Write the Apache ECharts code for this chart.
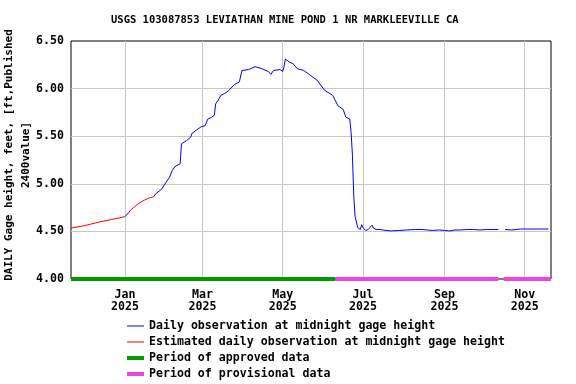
<!DOCTYPE html>
<html>
<head>
<meta charset="utf-8">
<script src="https://cdn.jsdelivr.net/npm/echarts@6/dist/echarts.min.js"></script>
<style>html,body{margin:0;padding:0;background:#fff}#c{width:576px;height:384px}</style>
</head>
<body>
<div id="c"></div>
<script>
// ---- data ----
const titleText = 'USGS 103087853 LEVIATHAN MINE POND 1 NR MARKLEEVILLE CA';
const yAxisTitle = 'DAILY Gage height, feet, [ft,Published\n2400value]';
const xMin = '2024-11-21';
const xMax = '2025-11-21';
const tickDates = ['2025-01-01', '2025-03-01', '2025-05-01', '2025-07-01', '2025-09-01', '2025-11-01'];
const tickLabels = ['Jan\n2025', 'Mar\n2025', 'May\n2025', 'Jul\n2025', 'Sep\n2025', 'Nov\n2025'];
const legendNames = [
  'Daily observation at midnight gage height',
  'Estimated daily observation at midnight gage height',
  'Period of approved data',
  'Period of provisional data'
];

const dailyDates = [
  '2025-01-01','2025-01-02','2025-01-04','2025-01-05','2025-01-10',
  '2025-01-23','2025-01-24','2025-01-29','2025-02-01','2025-02-04','2025-02-06','2025-02-08','2025-02-12',
  '2025-02-13','2025-02-17','2025-02-20','2025-02-21','2025-02-24','2025-02-28','2025-03-03',
  '2025-03-05','2025-03-08','2025-03-10','2025-03-11','2025-03-13','2025-03-15','2025-03-18','2025-03-21',
  '2025-03-25','2025-03-29','2025-03-30','2025-03-31','2025-04-05','2025-04-10','2025-04-15','2025-04-20',
  '2025-04-22','2025-04-23','2025-04-24','2025-04-29','2025-05-01','2025-05-02','2025-05-03','2025-05-06',
  '2025-05-09','2025-05-12','2025-05-17','2025-05-20','2025-05-27','2025-06-02','2025-06-08','2025-06-12',
  '2025-06-16','2025-06-18','2025-06-21','2025-06-22','2025-06-23','2025-06-24','2025-06-25','2025-06-27',
  '2025-06-29','2025-06-30','2025-07-01','2025-07-03','2025-07-05','2025-07-08','2025-07-09','2025-07-11',
  '2025-07-14','2025-07-16','2025-07-17','2025-07-22','2025-07-29','2025-08-03','2025-08-10','2025-08-15',
  '2025-08-19','2025-08-23','2025-08-28','2025-09-01','2025-09-05','2025-09-09','2025-09-13','2025-09-18',
  '2025-09-23','2025-09-28','2025-10-03','2025-10-08','2025-10-12','2025-10-14',
  '2025-10-17','2025-10-22','2025-10-29','2025-11-05','2025-11-12','2025-11-19'
];
const dailyValues = [
  4.655,4.675,4.70,4.72,null,
  4.865,4.89,4.945,5.01,5.07,5.14,5.18,5.21,
  5.42,5.455,5.49,5.53,5.56,5.60,5.61,
  5.68,5.70,5.72,5.84,5.88,5.93,5.95,5.98,
  6.04,6.07,6.08,6.19,6.20,6.23,6.21,6.18,
  6.15,6.15,6.19,6.20,6.18,6.23,6.31,6.28,
  6.26,6.21,6.19,6.16,6.09,5.98,5.93,5.82,
  5.78,5.70,5.68,5.54,5.30,4.88,4.66,4.54,
  4.52,4.57,4.54,4.51,4.52,4.566,4.535,4.52,
  4.52,4.515,4.505,4.505,4.51,4.515,4.52,4.52,
  4.515,4.51,4.515,4.51,4.505,4.515,4.515,4.52,
  4.52,4.515,4.52,4.52,4.52,null,
  4.52,4.515,4.525,4.525,4.525,4.525
];

const estDates = [
  '2024-11-21','2024-12-01','2024-12-13','2024-12-22','2025-01-01','2025-01-03',
  '2025-01-05','2025-01-08','2025-01-11','2025-01-16','2025-01-19','2025-01-23'
];
const estValues = [
  4.535,4.56,4.60,4.625,4.655,null,
  4.72,4.755,4.79,4.83,4.85,4.865
];

const approvedDates = ['2024-11-21','2025-06-10'];
const approvedValues = [4.0, 4.0];
const provisionalDates = ['2025-06-10','2025-10-12','2025-10-14','2025-10-16','2025-11-21'];
const provisionalValues = [4.0, 4.0, null, 4.0, 4.0];

// ---- chart ----
const toTime = d => echarts.time.parse(d).getTime();
const zip = (d, v) => d.map((x, i) => [toTime(x), v[i]]);
const tickTimes = tickDates.map(toTime);
const FONT = '"DejaVu Sans Mono", "Liberation Mono", monospace';

const chart = echarts.init(document.getElementById('c'), null, {renderer: 'canvas'});
chart.setOption({
  animation: false,
  backgroundColor: '#ffffff',
  title: {
    text: titleText,
    left: 106, top: 10,
    textStyle: {fontFamily: FONT, fontSize: 10.5, fontWeight: 'bold', color: '#000'}
  },
  grid: {
    left: 71, right: 25, top: 41, height: 238,
    outerBoundsMode: 'none', containLabel: false,
    show: true, borderColor: '#000', borderWidth: 1, backgroundColor: 'transparent'
  },
  legend: {
    orient: 'vertical', left: 125, top: 320, padding: 0,
    itemWidth: 17, itemHeight: 14, itemGap: 4,
    itemStyle: {color: 'transparent', borderWidth: 0},
    textStyle: {fontFamily: FONT, fontSize: 11.6, fontWeight: 'bold', color: '#000'},
    data: [
      {name: legendNames[0], lineStyle: {width: 1}},
      {name: legendNames[1], lineStyle: {width: 1}},
      {name: legendNames[2], lineStyle: {width: 4}},
      {name: legendNames[3], lineStyle: {width: 4}}
    ],
    selectedMode: false
  },
  xAxis: {
    type: 'value', min: toTime(xMin), max: toTime(xMax),
    axisLine: {show: false},
    axisTick: {show: false, customValues: tickTimes},
    splitLine: {show: true, lineStyle: {color: '#c8c8c8', width: 1}},
    axisLabel: {
      customValues: tickTimes,
      margin: 10,
      fontFamily: FONT, fontSize: 11.6, fontWeight: 'bold', color: '#000', lineHeight: 12,
      formatter: function (v) {
        for (let i = 0; i < tickTimes.length; i++) {
          if (Math.abs(tickTimes[i] - v) < 86400000) return tickLabels[i];
        }
        return '';
      }
    }
  },
  yAxis: {
    type: 'value', min: 4.0, max: 6.5, interval: 0.5,
    axisLine: {show: false}, axisTick: {show: false},
    splitLine: {show: true, showMinLine: false, showMaxLine: false, lineStyle: {color: '#c8c8c8', width: 1}},
    axisLabel: {
      margin: 7, fontFamily: FONT, fontSize: 11.6, fontWeight: 'bold', color: '#000',
      formatter: v => v.toFixed(2)
    },
    name: yAxisTitle,
    nameLocation: 'middle', nameRotate: 90, nameGap: 36, nameMoveOverlap: false,
    nameTextStyle: {fontFamily: FONT, fontSize: 11, fontWeight: 'bold', color: '#000', lineHeight: 17, align: 'center', padding: [0, 0, 0, 10]}
  },
  series: [
    {
      name: legendNames[0], type: 'line', data: zip(dailyDates, dailyValues),
      showSymbol: false, symbol: 'none', connectNulls: false,
      lineStyle: {color: '#0000ff', width: 1}, itemStyle: {color: '#0000ff'}, z: 4
    },
    {
      name: legendNames[1], type: 'line', data: zip(estDates, estValues),
      showSymbol: false, symbol: 'none', connectNulls: false,
      lineStyle: {color: '#ff0000', width: 1}, itemStyle: {color: '#ff0000'}, z: 3
    },
    {
      name: legendNames[2], type: 'line', data: zip(approvedDates, approvedValues),
      showSymbol: false, symbol: 'none', clip: false,
      lineStyle: {color: '#009900', width: 4}, itemStyle: {color: '#009900'}, z: 5
    },
    {
      name: legendNames[3], type: 'line', data: zip(provisionalDates, provisionalValues),
      showSymbol: false, symbol: 'none', clip: false, connectNulls: false,
      lineStyle: {color: '#f044e0', width: 4}, itemStyle: {color: '#f044e0'}, z: 5
    }
  ]
});
</script>
</body>
</html>
